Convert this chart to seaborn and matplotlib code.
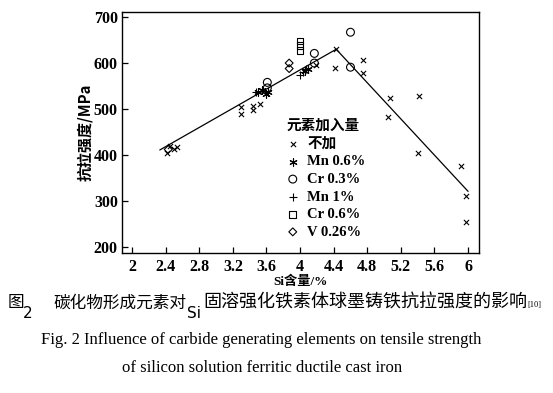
import matplotlib
matplotlib.use("Agg")
import matplotlib.pyplot as plt
import numpy as np
import pandas as pd
import seaborn as sns

# 读图得到的数据 (Si %, 抗拉强度 MPa)
plain_si = [2.42, 2.45, 2.50, 2.53, 3.30, 3.30, 3.44, 3.44, 3.52, 4.19, 4.42, 4.43,
            4.75, 4.75, 5.05, 5.07, 5.40, 5.42, 5.92, 5.98, 5.98]
plain_ts = [404, 420, 414, 418, 504, 489, 507, 498, 510, 596, 589, 630,
            606, 578, 483, 524, 404, 528, 376, 311, 254]
mn06_si = [3.50, 3.55, 3.60, 3.62, 4.06, 4.09]
mn06_ts = [537, 541, 533, 538, 583, 588]
cr03_si = [3.61, 3.61, 4.17, 4.17, 4.60, 4.60]
cr03_ts = [558, 546, 621, 600, 667, 591]
mn1_si = [3.48, 4.00, 4.04, 4.07]
mn1_ts = [538, 573, 580, 586]
cr06_si = [4.00, 4.00, 4.00]
cr06_ts = [648, 638, 628]
v_si = [2.43, 3.87, 3.87]
v_ts = [412, 600, 588]

fit_si = [2.33, 4.43, 6.0]
fit_ts = [411, 630, 321]

groups = ["不加", "Mn 0.6%", "Cr 0.3%", "Mn 1%", "Cr 0.6%", "V 0.26%"]
xticks = [2, 2.4, 2.8, 3.2, 3.6, 4, 4.4, 4.8, 5.2, 5.6, 6]
yticks = [200, 300, 400, 500, 600, 700]

series = [(plain_si, plain_ts), (mn06_si, mn06_ts), (cr03_si, cr03_ts),
          (mn1_si, mn1_ts), (cr06_si, cr06_ts), (v_si, v_ts)]
frames = []
for g, (xs, ys) in zip(groups, series):
    frames.append(pd.DataFrame({"si": xs, "ts": ys, "group": g}))
df = pd.concat(frames, ignore_index=True)

sns.set_style("white")
plt.rcParams.update({"text.color": "black", "axes.labelcolor": "black",
                     "xtick.color": "black", "ytick.color": "black"})
serif = ["Liberation Serif", "Noto Sans CJK SC"]
cjk = ["Noto Sans CJK SC", "DejaVu Sans"]

fig = plt.figure(figsize=(5.53, 3.93), dpi=100)
ax = fig.add_axes([122 / 553, 1 - 253 / 393, 357 / 553, 241 / 393])

styles = {
    "不加": dict(marker="x", s=14, color="black", linewidth=0.8),
    "Mn 0.6%": dict(marker=(6, 2, 0), s=28, color="black", linewidth=0.8),
    "Cr 0.3%": dict(marker="o", s=32, facecolor="none", edgecolor="black", linewidth=0.8),
    "Mn 1%": dict(marker="+", s=40, color="black", linewidth=0.8),
    "Cr 0.6%": dict(marker="s", s=24, facecolor="none", edgecolor="black", linewidth=0.8),
    "V 0.26%": dict(marker="D", s=16, facecolor="none", edgecolor="black", linewidth=0.8),
}
for g in groups:
    sub = df[df["group"] == g]
    sns.scatterplot(data=sub, x="si", y="ts", ax=ax, label=g, **styles[g])

sns.lineplot(x=fit_si, y=fit_ts, ax=ax, color="black", linewidth=0.9, legend=False)

ax.set_xlim(1.88, 6.13)
ax.set_ylim(187, 711)
ax.set_xticks(xticks)
ax.set_xticklabels([f"{t:g}" for t in xticks])
ax.set_yticks(yticks)
ax.set_xlabel("")
ax.set_ylabel("")
for sp in ax.spines.values():
    sp.set_color("black")
    sp.set_linewidth(1.0)
ax.tick_params(axis="both", direction="in", length=4, width=0.9, color="black",
               bottom=True, left=True, top=False, right=False)
ax.tick_params(axis="x", pad=4)
ax.tick_params(axis="y", pad=3)
for lab in ax.get_xticklabels() + ax.get_yticklabels():
    lab.set_fontfamily(serif)
    lab.set_fontweight("bold")
    lab.set_fontsize(11.5)
    lab.set_color("black")

leg = ax.legend(loc="upper left", bbox_to_anchor=(0.462, 0.564), frameon=False,
                borderpad=0, borderaxespad=0, handlelength=0.8, handletextpad=0.6,
                labelspacing=0.3, title="元素加入量", alignment="left",
                prop={"family": serif, "weight": "bold", "size": 10.5},
                title_fontproperties={"family": cjk, "weight": "bold", "size": 10.5})
for t in leg.get_texts():
    t.set_color("black")
leg.get_title().set_color("black")

fig.text(85 / 553, 1 - 132 / 393, "抗拉强度/MPa", rotation=90, ha="center", va="center",
         family=cjk, fontweight="bold", fontsize=10.8)
fig.text(300 / 553, 1 - 282 / 393, "Si含量/%", ha="center", va="center",
         family=serif, fontweight="bold", fontsize=9.5)

# 图题
fig.text(8 / 553, 1 - 303 / 393, "图", ha="left", va="center", family=cjk, fontsize=12)
fig.text(23 / 553, 1 - 313 / 393, "2", ha="left", va="center", family=["DejaVu Sans"], fontsize=11)
fig.text(53 / 553, 1 - 303 / 393, "碳化物形成元素对", ha="left", va="center", family=cjk, fontsize=12)
fig.text(187 / 553, 1 - 313 / 393, "Si", ha="left", va="center", family=["DejaVu Sans"], fontsize=11)
fig.text(203 / 553, 1 - 303 / 393, "固溶强化铁素体球墨铸铁抗拉强度的影响", ha="left", va="center",
         family=cjk, fontsize=13)
fig.text(527 / 553, 1 - 305 / 393, "[10]", ha="left", va="center", family=serif, fontsize=6)
fig.text(261 / 553, 1 - 340 / 393,
         "Fig. 2 Influence of carbide generating elements on tensile strength",
         ha="center", va="center", family=serif, fontsize=12)
fig.text(262 / 553, 1 - 368 / 393, "of silicon solution ferritic ductile cast iron",
         ha="center", va="center", family=serif, fontsize=12)

fig.savefig("out.png", dpi=100)
